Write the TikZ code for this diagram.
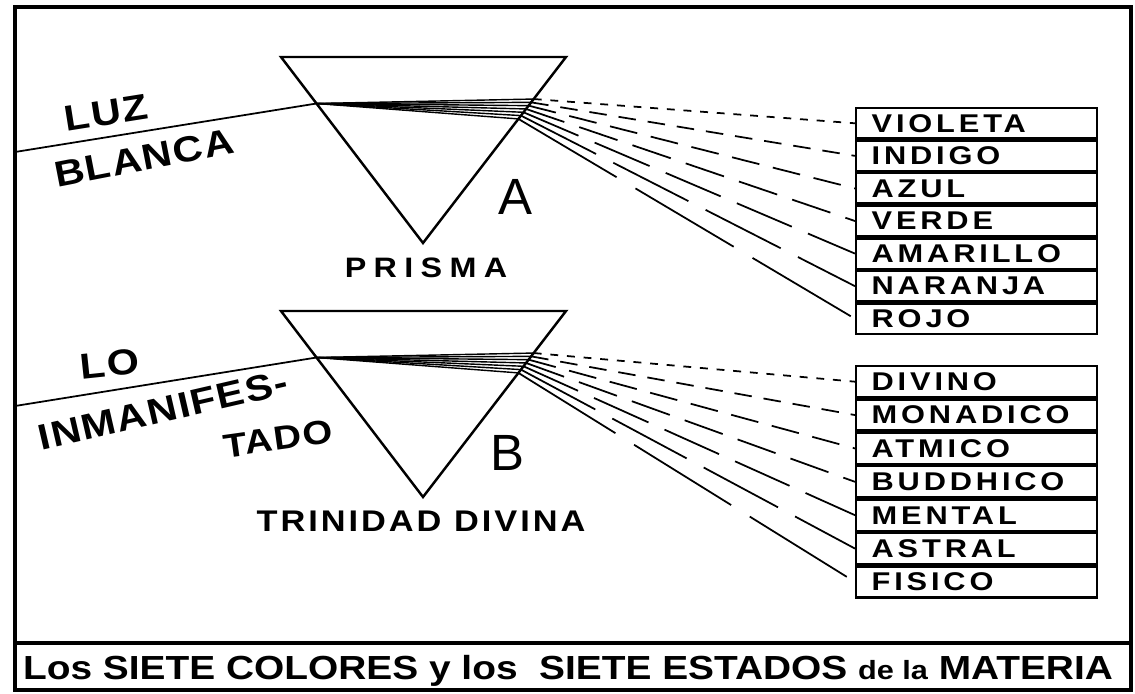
\documentclass[tikz,border=0pt]{standalone}
\usepackage{fontspec}
\setmainfont{Liberation Sans}
\newfontfamily\letras[FakeStretch=1.2, LetterSpace=15]{Liberation Sans}
\newfontfamily\grandes[FakeStretch=1.15, LetterSpace=4]{Liberation Sans}
\newfontfamily\anchas[FakeStretch=1.15, LetterSpace=26]{Liberation Sans}
\usetikzlibrary{calc}
\usetikzlibrary{positioning}

\tikzset{
	fila/.style={draw, line width=1.3pt, minimum width=4.82cm, minimum height=#1,
		text width=4.2cm, align=left, inner xsep=0.3cm, inner ysep=0pt,
		font=\letras\bfseries\fontsize{14.6}{15}\selectfont},
	rotulo/.style={inner sep=0pt, font=\grandes\bfseries\fontsize{20.5}{21}\selectfont},
	prisma/.style={line width=1.4pt, line join=miter},
}

\begin{document}
\begin{tikzpicture}[x=0.02cm, y=-0.02cm]
	\useasboundingbox (0,0) rectangle (1135,693);
	\draw[line width=2pt] (15,7) rectangle (1131,690);		%frame
	\draw[line width=2pt] (15,643)--(1131,643);
	\node[font=\bfseries\fontsize{19}{20}\selectfont] (titulo) at (568,671)
		{\resizebox{21.8cm}{\height}{Los SIETE COLORES y los \ SIETE ESTADOS {\fontsize{15}{16}\selectfont de la} MATERIA}};

	%the two prisms, A above and B below
	\foreach \p/\dy in {A/0, B/254} {
		\coordinate (\p1) at (281,57+\dy);
		\coordinate (\p2) at (566,57+\dy);
		\coordinate (\p3) at (423,243+\dy);
		\coordinate (\p luz) at (15,152+\dy);
		\coordinate (\p in) at ($(\p1)!0.25!(\p3)$);
		\draw[prisma] (\p1)--(\p2)--(\p3)--cycle;
		\draw[line width=1pt] (\p luz)--(\p in);
		\foreach \k in {0,...,6}
			\draw[line width=0.8pt] (\p in)--($(\p2)!0.226+\k*0.0178!(\p3)$) coordinate (\p out\k);
	}
	\node[font=\fontsize{29}{30}\selectfont] (letraA) at (515,197) {A};
	\node[font=\fontsize{29}{30}\selectfont] (letraB) at (507,453) {B};

	%labels, left
	\node[rotulo, rotate=9] (luz) at (106,113) {LUZ};
	\node[rotulo, rotate=11] (blanca) at (144,158) {BLANCA};
	\node[font=\anchas\bfseries\fontsize{16}{17}\selectfont] (prisma) at (426,268) {PRISMA};
	\node[rotulo, rotate=6] (lo) at (110,364) {LO};
	\node[rotulo, rotate=13] (inman) at (163,410) {INMANIFES-};
	\node[rotulo, rotate=8, font=\grandes\bfseries\fontsize{19}{20}\selectfont] (tado) at (278,439) {TADO};
	\node[font=\grandes\bfseries\fontsize{17}{18}\selectfont\addfontfeature{LetterSpace=10}] (trinidad) at (421,521) {TRINIDAD DIVINA};

	%boxes, right
	\node[fila=0.606cm, anchor=north west] (colA1) at (855,107) {VIOLETA};
	\foreach \t [count=\i from 2] in {INDIGO,AZUL,VERDE,AMARILLO,NARANJA,ROJO} {
		\pgfmathtruncatemacro\j{\i-1}
		\node[fila=0.606cm, below=0pt of colA\j] (colA\i) {\t};
	}
	\node[fila=0.622cm, anchor=north west] (colB1) at (855,365) {DIVINO};
	\foreach \t [count=\i from 2] in {MONADICO,ATMICO,BUDDHICO,MENTAL,ASTRAL,FISICO} {
		\pgfmathtruncatemacro\j{\i-1}
		\node[fila=0.622cm, below=0pt of colB\j] (colB\i) {\t};
	}

	%dispersed rays
	\foreach \p in {A,B}
	\foreach \k/\on/\off in {0/4.5/5, 1/10/6.8, 2/16/7.9, 3/23/9, 4/34/10, 5/48/11, 6/65/12.5} {
		\pgfmathtruncatemacro\i{\k+1}
		\draw[line width=1pt, dash pattern=on \on pt off \off pt] (\p out\k)--(col\p\i.west);
	}
\end{tikzpicture}
\end{document}
